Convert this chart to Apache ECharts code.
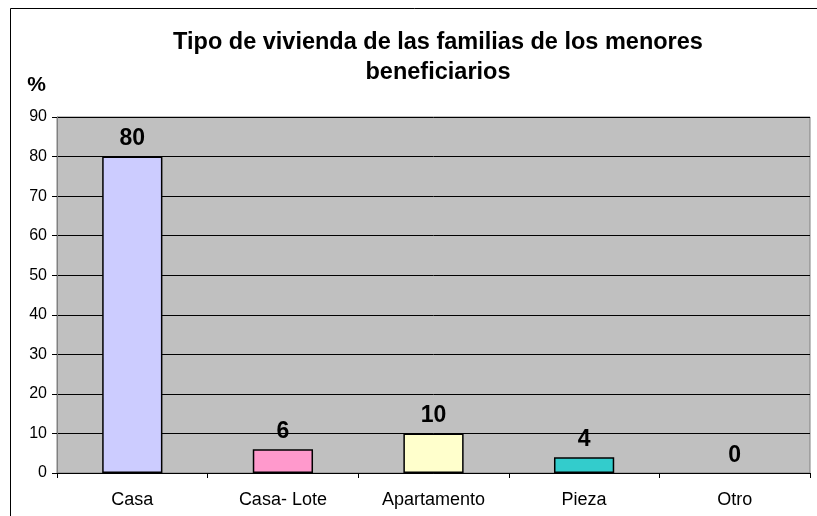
<!DOCTYPE html>
<html>
<head>
<meta charset="utf-8">
<script src="https://cdn.jsdelivr.net/npm/echarts@6/dist/echarts.min.js"></script>
<style>
  html, body { margin: 0; padding: 0; background: #fff; }
  #main { width: 817px; height: 516px; }
</style>
</head>
<body>
<div id="main"></div>
<script>
// datos del grafico
var categorias = ['Casa', 'Casa- Lote', 'Apartamento', 'Pieza', 'Otro'];
var porcentajes = [80, 6, 10, 4, 0];
var colores = ['#CCCCFF', '#FF99CC', '#FFFFCC', '#33CCCC', '#C0C0C0'];
var ticksY = [0, 10, 20, 30, 40, 50, 60, 70, 80, 90];

var myChart = echarts.init(document.getElementById('main'));

var fuente = 'Arial, "Liberation Sans", sans-serif';

var option = {
    backgroundColor: '#ffffff',
    animation: false,
    title: {
        text: 'Tipo de vivienda de las familias de los menores\nbeneficiarios',
        left: 433,
        top: 23,
        textAlign: 'center',
        textStyle: {
            fontFamily: fuente,
            fontWeight: 'bold',
            fontSize: 23.5,
            lineHeight: 30,
            color: '#000'
        }
    },
    graphic: [{
        type: 'rect',
        shape: { x: 10.5, y: 8.5, width: 830, height: 530 },
        style: { fill: 'none', stroke: '#000', lineWidth: 1 },
        silent: true
    }],
    grid: {
        left: 57,
        right: 7,
        top: 117,
        bottom: 43,
        show: true,
        backgroundColor: '#C0C0C0',
        borderColor: '#808080',
        borderWidth: 1
    },
    xAxis: {
        type: 'category',
        data: categorias,
        axisLine: { lineStyle: { color: '#000', width: 1 } },
        axisTick: { show: true, length: 5, inside: false, lineStyle: { color: '#000' } },
        axisLabel: {
            margin: 18,
            fontFamily: fuente,
            fontSize: 18,
            color: '#000'
        },
        splitLine: { show: false }
    },
    yAxis: {
        type: 'value',
        min: ticksY[0],
        max: ticksY[ticksY.length - 1],
        interval: 10,
        name: '%',
        nameLocation: 'end',
        nameGap: 21,
        nameTextStyle: {
            fontFamily: fuente,
            fontWeight: 'bold',
            fontSize: 21,
            color: '#000',
            align: 'right',
            padding: [0, 11, 0, 0]
        },
        axisLine: { show: true, lineStyle: { color: '#808080' } },
        axisTick: { show: true, length: 5, lineStyle: { color: '#000' } },
        axisLabel: {
            margin: 10,
            fontFamily: fuente,
            fontSize: 16,
            color: '#000'
        },
        splitLine: { show: true, lineStyle: { color: '#000', width: 1 } }
    },
    series: [{
        type: 'bar',
        barWidth: '40%',
        data: porcentajes.map(function (v, i) {
            return {
                value: v,
                itemStyle: { color: colores[i], borderWidth: v > 0 ? 1.5 : 0 }
            };
        }),
        itemStyle: {
            borderColor: '#000'
        },
        label: {
            show: true,
            position: 'top',
            distance: 6,
            fontFamily: fuente,
            fontWeight: 'bold',
            fontSize: 23,
            color: '#000'
        }
    }]
};

myChart.setOption(option);
</script>
</body>
</html>
